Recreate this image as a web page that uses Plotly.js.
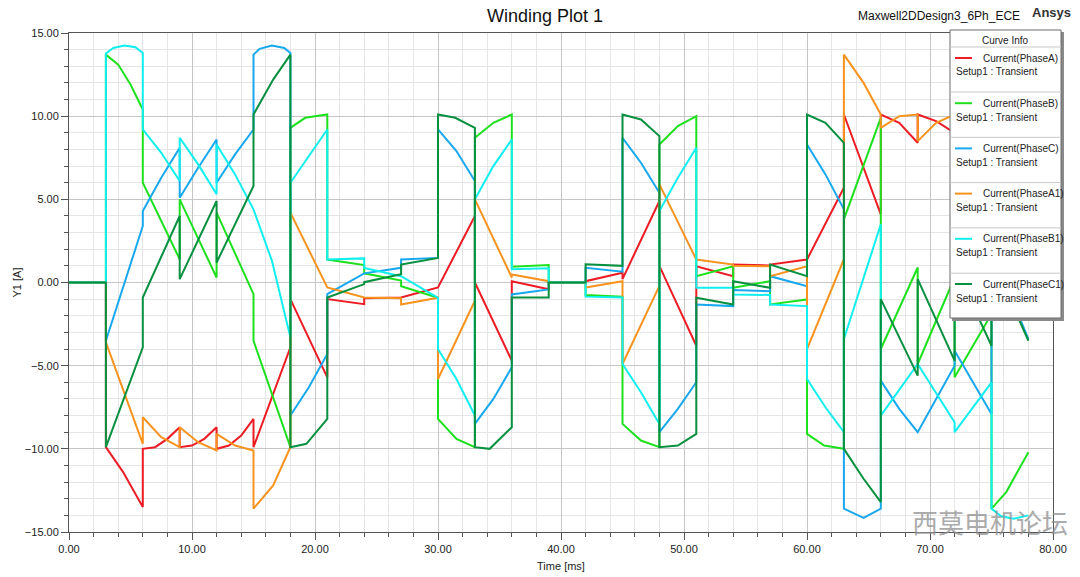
<!DOCTYPE html>
<html><head><meta charset="utf-8">
<script src="https://cdn.plot.ly/plotly-3.0.1.min.js"></script>
<style>html,body{margin:0;padding:0;background:#fff;}#chart{width:1080px;height:577px;}</style>
</head><body><div id="chart"></div>
<script>
// ---- data: time [ms] and current [A] for each phase ----
const phaseNames = ['Current(PhaseA)','Current(PhaseB)','Current(PhaseC)','Current(PhaseA1)','Current(PhaseB1)','Current(PhaseC1)'];
const setupLabel = 'Setup1 : Transient';

const tA = [0,3,3,4.4,6,6,7,8,9,9,10,11,12,12,13,14,15,15,18,18,21,21,24,24,27,30,33,33,36,36,39,39,42,42,45,45,48,48,51,51,54,54,57,57,60,63,63,66,66,67.5,69,69,70.5,72,72,75,75,78];
const iA = [0,0,-9.9,-11.4,-13.5,-10.0,-9.9,-9.4,-8.7,-9.9,-9.8,-9.4,-8.7,-10.0,-9.8,-9.2,-8.2,-9.9,-3.9,-1.0,-5.7,-1.0,-1.3,-0.95,-0.9,-0.3,4.0,0.0,-4.7,0.08,-0.4,0,0,0.08,0.58,0.2,4.9,1.0,-3.8,0.98,0.38,1.08,1.02,1.08,1.38,5.7,10.1,4.1,10.1,9.6,8.4,10.1,9.7,9.0,10.1,8.8,10.1,8.8];

const tB = [0,3,3,4,5,6,6,9,9,12,12,15,15,18,18,19.2,21,21,24,24,27,27,30,30,31.5,33,33,34.5,36,36,39,39,42,42,45,45,46.5,48,48,49.5,51,51,54,54,57,57,60,60,61.4,63,63,66,66,69,69,72,72,75,75,76.2,78];
const iB = [0,0,13.7,13.1,11.9,10.4,6.0,1.4,5.0,0.3,4.2,-0.7,-3.5,-9.9,9.3,9.9,10.1,1.38,1.05,0.55,0.12,-0.22,-0.92,-8.2,-9.4,-9.9,8.7,9.6,10.1,0.95,1.05,0,0,-0.75,-0.85,-8.5,-9.5,-9.9,8.3,9.4,10.0,0.38,0.98,-0.32,0.08,-1.32,-1.02,-9.1,-9.8,-10.0,3.8,9.9,-4.0,0.9,-4.9,0.3,-5.7,-1.9,-13.6,-12.6,-10.2];

const tC = [0,3,3,6,6,7.5,9,9,10.5,12,12,13.5,15,15,15.5,16.5,17.5,18,18,19.5,21,21,24,27,27,30,30,31.5,33,33,34.5,36,36,39,39,42,42,45,45,46.5,48,48,49.5,51,51,54,54,57,57,60,60,61.5,63,63,64.6,66,66,67.5,69,72,72,75,75,78];
const iC = [0,0,-3.5,3.4,4.3,6.3,8.1,5.1,6.9,8.6,6.0,7.7,9.2,13.7,14.05,14.25,14.1,13.8,-8.0,-6.3,-4.3,-0.7,0.55,0.88,1.38,1.48,9.2,7.9,6.1,-8.5,-7.0,-5.1,-0.72,-0.42,0,0,0.88,0.65,8.7,7.2,5.4,-9.0,-7.6,-6.0,-1.32,-1.42,-0.45,-0.52,0.38,-0.22,8.3,6.5,4.4,-13.6,-14.15,-13.6,-5.9,-7.6,-9.0,-5.0,-4.1,-7.9,2.0,-3.4];

const tA1 = [0,3,3,6,6,7.5,9,9,10.5,12,12,13.5,15,15,16.6,18,18,21,24,27,27,30,30,33,33,36,36,39,39,42,42,45,45,48,48,51,54,54,57,57,60,60,63,63,64.6,66,66,67.5,69,69,70.5,72,72,75,75,78];
const iA1 = [0,0,-3.6,-9.7,-8.1,-9.3,-9.9,-8.7,-9.6,-10.1,-9.1,-9.8,-10.1,-13.6,-12.2,-9.9,4.2,-0.3,-0.9,-0.95,-1.32,-0.92,-5.8,-1.1,5.0,0.3,0.48,0.08,0,0,-0.3,0.08,-4.9,-0.2,5.9,1.38,1.08,1.0,0.98,0.38,0.98,-4.0,1.4,13.7,12.0,10.1,9.3,10.0,10.1,8.5,9.6,10.1,8.8,10.1,8.8,10.1];

const tB1 = [0,3,3,3.6,4.5,5.4,6,6,7.5,9,9,10.5,12,12,13.5,15,16.5,18,18,19.5,21,21,24,24,27,30,30,31.5,33,33,34.5,36,36,39,39,42,42,45,45,46.5,48,48,49.5,51,51,54,54,57,57,60,60,61.5,63,63,66,66,69,72,72,75,75,75.8,76.8,78];
const iB1 = [0,0,13.77,14.1,14.25,14.15,13.8,9.2,7.8,6.1,8.7,7.1,5.3,8.3,6.5,4.4,1.3,-3.3,6.0,7.6,9.2,1.38,1.45,0.88,0.38,-0.92,-4.0,-5.8,-8.0,5.0,7.0,8.6,0.8,0.85,0,0,-0.85,-0.9,-4.9,-6.6,-8.5,4.3,6.3,8.1,-0.32,-0.32,-0.72,-0.75,-1.32,-1.42,-5.8,-7.5,-9.0,-3.4,3.5,-8.0,-4.9,-8.4,-9.0,-6.0,-13.6,-14.05,-14.2,-14.0];

const tC1 = [0,3,3,6,6,9,9,12,12,15,15,16.6,18,18,19.3,21,21,24,24,27,27,30,30,31.4,33,33,34.2,36,36,39,39,42,42,45,45,46.5,48,48,49.5,51,51,54,54,57,57,60,60,61.5,63,63,64.6,66,66,69,69,72,72,75,75,78];
const iC1 = [0,0,-9.9,-3.9,-0.9,4.0,0.2,4.9,1.2,5.8,10.1,12.2,13.7,-9.9,-9.7,-8.2,-0.9,-0.1,0.02,0.5,1.08,1.48,10.1,9.9,9.3,-9.9,-10.0,-8.7,-0.9,-0.9,0,0,1.1,1.0,10.1,9.8,8.8,-9.9,-9.8,-9.1,-0.92,-1.32,0.08,-0.32,1.08,0.38,10.1,9.6,8.4,-10.0,-11.8,-13.2,-1.0,-5.6,0.2,-4.7,1.0,-3.8,1.5,-3.5];

const colors = ['#ed1c24','#1ee11e','#18a8ee','#f7931e','#10eeee','#07903f'];
const series = [[tA,iA],[tB,iB],[tC,iC],[tA1,iA1],[tB1,iB1],[tC1,iC1]];

// ---- layout helpers (pixel -> paper) ----
const L = 69, R = 1053, T = 33, B = 532;
const PX = x => (x - L) / (R - L);
const PY = y => (B - y) / (B - T);
const FONT = 'Liberation Sans, Arial, sans-serif';

const traces = series.map((s, k) => ({
  type: 'scatter', mode: 'lines', x: s[0], y: s[1], name: phaseNames[k],
  line: {color: colors[k], width: 2}, hoverinfo: 'skip', showlegend: false
}));

const shapes = [];
const annotations = [];
// legend box (shadow + box)
shapes.push({type:'rect', xref:'paper', yref:'paper', x0:PX(952), x1:PX(1064), y0:PY(32), y1:PY(321), fillcolor:'#8a8a8a', line:{width:0}, layer:'above'});
shapes.push({type:'rect', xref:'paper', yref:'paper', x0:PX(950), x1:PX(1061), y0:PY(30), y1:PY(318), fillcolor:'#ffffff', line:{color:'#6a6a6a', width:1}, layer:'above'});
shapes.push({type:'line', xref:'paper', yref:'paper', x0:PX(950), x1:PX(1061), y0:PY(47), y1:PY(47), line:{color:'#c8c8c8', width:1}, layer:'above'});
annotations.push({xref:'paper', yref:'paper', x:PX(1005), y:PY(40), text:'Curve Info', showarrow:false, xanchor:'center', yanchor:'middle', font:{family:FONT, size:10, color:'#222'}});
for (let k = 0; k < 6; k++) {
  const ys = 58 + 45.2 * k;
  shapes.push({type:'line', xref:'paper', yref:'paper', x0:PX(955), x1:PX(972), y0:PY(ys), y1:PY(ys), line:{color:colors[k], width:2}, layer:'above'});
  annotations.push({xref:'paper', yref:'paper', x:PX(981), y:PY(ys), text:phaseNames[k], showarrow:false, xanchor:'left', yanchor:'middle', font:{family:FONT, size:10, color:'#222'}});
  annotations.push({xref:'paper', yref:'paper', x:PX(954), y:PY(ys + 14), text:setupLabel, showarrow:false, xanchor:'left', yanchor:'middle', font:{family:FONT, size:10, color:'#222'}});
  if (k < 5) {
    const yl = 92 + 45.3 * k;
    shapes.push({type:'line', xref:'paper', yref:'paper', x0:PX(950), x1:PX(1061), y0:PY(yl), y1:PY(yl), line:{color:'#c8c8c8', width:1}, layer:'above'});
  }
}
annotations.push({xref:'paper', yref:'paper', x:PX(1022), y:PY(16), text:'Maxwell2DDesign3_6Ph_ECE', showarrow:false, xanchor:'right', yanchor:'middle', font:{family:FONT, size:12, color:'#111'}});
annotations.push({xref:'paper', yref:'paper', x:PX(1073), y:PY(13), text:'<b>Ansys</b>', showarrow:false, xanchor:'right', yanchor:'middle', font:{family:FONT, size:13, color:'#333'}});
annotations.push({xref:'paper', yref:'paper', x:PX(1070), y:PY(521), text:'西莫电机论坛', showarrow:false, xanchor:'right', yanchor:'middle', opacity:0.75, font:{family:'Noto Sans CJK SC', size:26, color:'#8f8f8f'}});

const axisCommon = {
  showline:true, linecolor:'#555', linewidth:1, mirror:true, zeroline:false,
  ticks:'outside', tickcolor:'#555', ticklen:7, tickformat:'.2f',
  tickfont:{family:FONT, size:11, color:'#222'},
  showgrid:true, gridcolor:'#c6c6c6', gridwidth:1
};

const layout = {
  width:1080, height:577,
  margin:{l:L, r:1080-R, t:T, b:577-B},
  paper_bgcolor:'#ffffff', plot_bgcolor:'#ffffff',
  title:{text:'Winding Plot 1', x:545/1080, xanchor:'center', y:1-16/577, yanchor:'middle', xref:'container', yref:'container', font:{family:FONT, size:18, color:'#111'}},
  xaxis: Object.assign({}, axisCommon, {
    range:[0,80], tick0:0, dtick:10,
    minor:{dtick:2, showgrid:true, gridcolor:'#e6e6e6', ticks:'outside', ticklen:4, tickcolor:'#555'},
    title:{text:'Time [ms]', standoff:8, font:{family:FONT, size:11, color:'#222'}}
  }),
  yaxis: Object.assign({}, axisCommon, {
    range:[-15,15], tick0:0, dtick:5,
    minor:{dtick:1, showgrid:true, gridcolor:'#e6e6e6', ticks:'outside', ticklen:4, tickcolor:'#555'},
    title:{text:'Y1 [A]', standoff:0, font:{family:FONT, size:11, color:'#222'}}
  }),
  showlegend:false,
  shapes: shapes, annotations: annotations
};

Plotly.newPlot('chart', traces, layout, {staticPlot:true, displayModeBar:false});
</script>
</body></html>
